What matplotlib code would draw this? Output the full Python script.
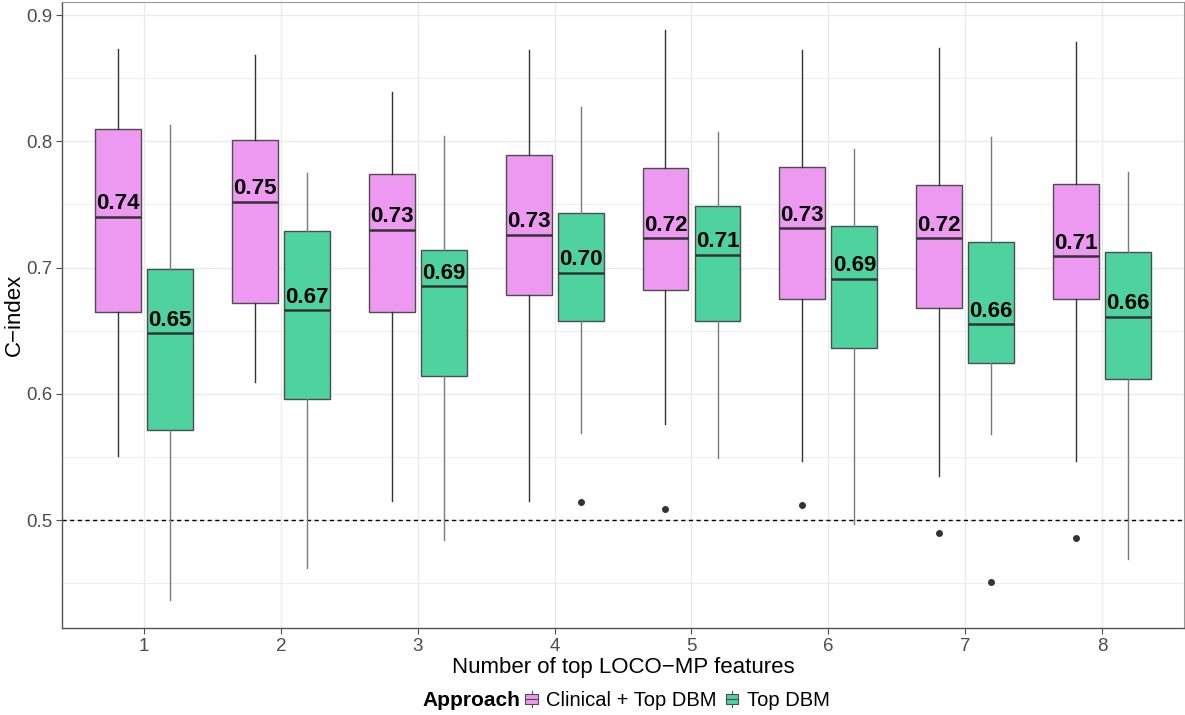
import numpy as np
import matplotlib
matplotlib.use("Agg")
import matplotlib.pyplot as plt
from matplotlib.legend_handler import HandlerBase
from matplotlib.patches import Rectangle
from matplotlib.lines import Line2D

plt.rcParams['font.family'] = ['Liberation Sans', 'DejaVu Sans']

#%% data
n_features = [1, 2, 3, 4, 5, 6, 7, 8]

clin_whishi = [0.873, 0.868, 0.839, 0.872, 0.888, 0.872, 0.874, 0.879]
clin_q3 = [0.810, 0.801, 0.774, 0.789, 0.779, 0.780, 0.765, 0.766]
clin_med = [0.740, 0.752, 0.730, 0.726, 0.723, 0.731, 0.723, 0.709]
clin_q1 = [0.665, 0.672, 0.665, 0.678, 0.682, 0.675, 0.668, 0.675]
clin_whislo = [0.551, 0.609, 0.515, 0.515, 0.576, 0.547, 0.535, 0.547]
clin_fliers = [[], [], [], [], [0.509], [0.512], [0.490], [0.486]]

dbm_whishi = [0.813, 0.775, 0.804, 0.827, 0.807, 0.794, 0.803, 0.776]
dbm_q3 = [0.699, 0.729, 0.714, 0.743, 0.749, 0.733, 0.720, 0.712]
dbm_med = [0.648, 0.666, 0.685, 0.696, 0.710, 0.691, 0.655, 0.661]
dbm_q1 = [0.571, 0.596, 0.614, 0.658, 0.658, 0.636, 0.624, 0.612]
dbm_whislo = [0.437, 0.462, 0.484, 0.569, 0.549, 0.497, 0.568, 0.469]
dbm_fliers = [[], [], [], [0.514], [], [], [0.451], []]

approaches = ['Clinical + Top DBM', 'Top DBM']
colors = ['#EE99F1', '#4DD2A0']
whisker_colors = ['#333333', '#7a7a7a']


def make_stats(lo, q1, med, q3, hi, fl):
    return [dict(whislo=a, q1=b, med=c, q3=d, whishi=e, fliers=f)
            for a, b, c, d, e, f in zip(lo, q1, med, q3, hi, fl)]


series = [
    make_stats(clin_whislo, clin_q1, clin_med, clin_q3, clin_whishi, clin_fliers),
    make_stats(dbm_whislo, dbm_q1, dbm_med, dbm_q3, dbm_whishi, dbm_fliers),
]
medians = [clin_med, dbm_med]


# legend key that looks like a little boxplot
class BoxKeyHandler(HandlerBase):
    def create_artists(self, legend, orig_handle, xdescent, ydescent,
                       width, height, fontsize, trans):
        cx = width / 2 - xdescent
        h = height * 1.15
        y0 = -ydescent + (height - h) / 2
        bw = width * 0.95
        rect = Rectangle((cx - bw / 2, y0 + h * 0.2), bw, h * 0.6,
                         facecolor=orig_handle.get_facecolor(),
                         edgecolor='#4d4d4d', lw=0.8, transform=trans)
        vline = Line2D([cx, cx], [y0, y0 + h], color='#4d4d4d', lw=0.8,
                       transform=trans)
        med = Line2D([cx - bw / 2, cx + bw / 2], [y0 + h / 2, y0 + h / 2],
                     color='#4d4d4d', lw=0.8, transform=trans)
        return [vline, rect, med]


#%%
fig = plt.figure(figsize=(11.85, 7.15), dpi=100)
ax = fig.add_axes([0.0523, 0.1217, 0.947, 0.8755])

x = np.array(n_features, dtype=float)
offset = 0.19
width = 0.335
for i, (stats, col, wcol) in enumerate(zip(series, colors, whisker_colors)):
    pos = x + (i * 2 - 1) * offset
    ax.bxp(stats, positions=pos, widths=width, patch_artist=True,
           showcaps=False, manage_ticks=False,
           boxprops=dict(facecolor=col, edgecolor='#4d4d4d', lw=1.0),
           medianprops=dict(color='#333333', lw=1.8),
           whiskerprops=dict(color=wcol, lw=1.0),
           flierprops=dict(marker='o', markerfacecolor='#333333',
                           markeredgecolor='#333333', markersize=4),
           zorder=3)
    for xp, m in zip(pos, medians[i]):
        ax.text(xp, m + 0.002, '%.2f' % m, ha='center', va='bottom',
                fontsize=16, fontweight='bold', color='black', zorder=4)

ax.axhline(0.5, color='black', ls=(0, (3, 2.5)), lw=1.0, zorder=2)

ax.set_xlim(0.4, 8.6)
ax.set_ylim(0.4145, 0.9103)
ax.set_xticks(n_features)
ax.set_yticks([0.5, 0.6, 0.7, 0.8, 0.9])
ax.set_yticklabels(['0.5', '0.6', '0.7', '0.8', '0.9'])
ax.set_yticks(np.arange(0.45, 0.9, 0.1), minor=True)
ax.grid(True, which='major', color='#EBEBEB', lw=1.0, zorder=0)
ax.grid(True, which='minor', axis='y', color='#EBEBEB', lw=0.6, zorder=0)
ax.set_axisbelow(True)

ax.tick_params(axis='both', which='major', labelsize=13.5, colors='#4D4D4D',
               length=4, width=0.8, labelcolor='#4D4D4D', pad=3)
ax.tick_params(axis='y', which='minor', length=0)
for side in ['top', 'right']:
    ax.spines[side].set_color('#999999')
    ax.spines[side].set_linewidth(0.8)
for side in ['left', 'bottom']:
    ax.spines[side].set_color('#555555')
    ax.spines[side].set_linewidth(1.0)

ax.set_xlabel('Number of top LOCO\u2212MP features', fontsize=16, labelpad=2)
ax.set_ylabel('C\u2212index', fontsize=16, labelpad=1)

# legend at bottom, title on the left
handles = [Rectangle((0, 0), 1, 1, facecolor=c) for c in colors]
fig.text(0.4395, 0.0205, 'Approach', fontsize=15, fontweight='bold',
         ha='right', va='center')
fig.legend(handles, approaches, loc='center left', ncol=2, frameon=False,
           bbox_to_anchor=(0.443, 0.0205), fontsize=14.5,
           handler_map={Rectangle: BoxKeyHandler()},
           handlelength=0.65, handletextpad=0.4, columnspacing=0.45,
           borderaxespad=0, borderpad=0)

fig.savefig('out.png', dpi=100)
